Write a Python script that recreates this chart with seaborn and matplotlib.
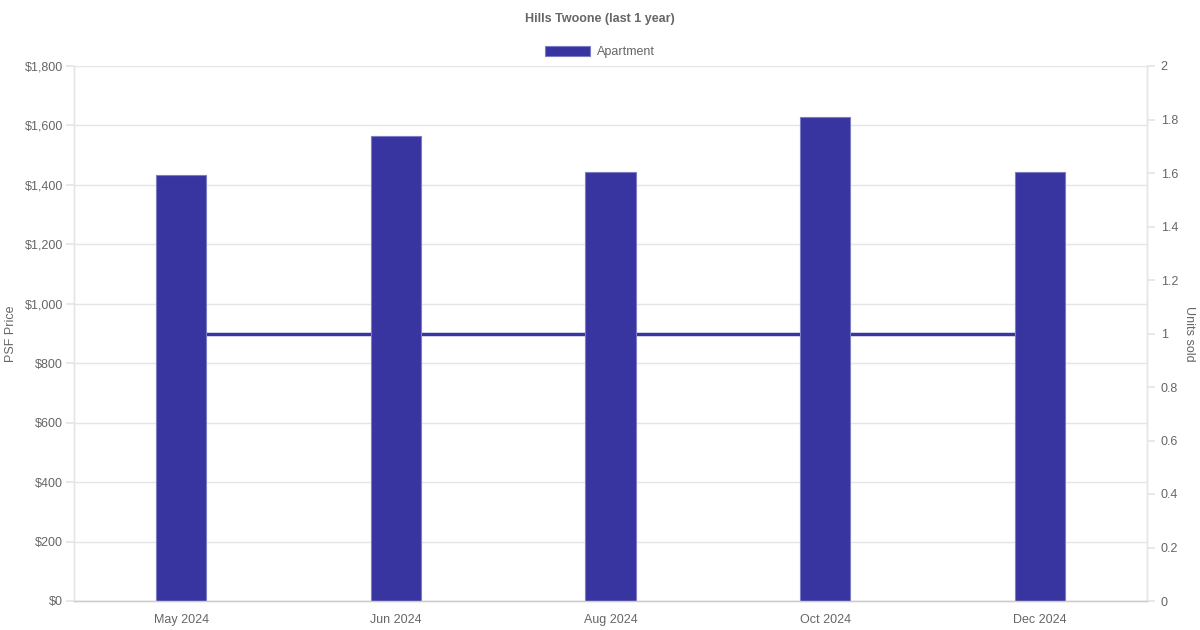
import matplotlib
matplotlib.use("Agg")
import matplotlib.pyplot as plt
import matplotlib.ticker as mticker
from matplotlib.patches import Patch
import seaborn as sns
import pandas as pd

months = ["May 2024", "Jun 2024", "Aug 2024", "Oct 2024", "Dec 2024"]
psf_price = [1433, 1565, 1443, 1628, 1443]
units_sold = [1, 1, 1, 1, 1]
series_name = "Apartment"
title = "Hills Twoone (last 1 year)"

BAR = "#3834a0"
EDGE = "#7f7cc6"
TXT = "#666666"
GRID = "#e5e5e5"

sns.set_theme(style="white")
plt.rcParams["font.family"] = ["Liberation Sans", "DejaVu Sans"]

df = pd.DataFrame({"month": months, "psf": psf_price, "units": units_sold})

fig = plt.figure(figsize=(12, 6.3), dpi=100)
ax = fig.add_axes([74 / 1200, 1 - 601 / 630, (1147 - 74) / 1200, (601 - 66) / 630])
ax2 = ax.twinx()

sns.barplot(data=df, x="month", y="psf", color=BAR, width=0.233, ax=ax,
            edgecolor=EDGE, linewidth=0.8, saturation=1)
sns.lineplot(data=df, x="month", y="units", color=BAR, linewidth=2.5, ax=ax2)

ax.set_zorder(ax2.get_zorder() + 1)
ax.patch.set_visible(False)

ax.set_ylim(0, 1800)
ax.set_yticks(range(0, 1801, 200))
ax.yaxis.set_major_formatter(mticker.FuncFormatter(lambda v, p: f"${v:,.0f}"))
ax2.set_ylim(0, 2)
ax2.set_yticks([i / 10 for i in range(0, 21, 2)])
ax2.yaxis.set_major_formatter(mticker.FuncFormatter(lambda v, p: f"{v:.1f}".rstrip("0").rstrip(".")))
ax.set_xlim(-0.5, len(months) - 0.5)

ax.grid(axis="y", color=GRID, linewidth=1)
ax.grid(axis="x", visible=False)
ax2.grid(False)

for a in (ax, ax2):
    for s in a.spines.values():
        s.set_color(GRID)
        s.set_linewidth(1)
    a.spines["top"].set_visible(False)
ax.spines["bottom"].set_color("#cccccc")

ax.tick_params(axis="y", which="both", length=5.8, color=GRID, labelcolor=TXT, labelsize=9, pad=2.2, left=True)
ax.tick_params(axis="x", length=0, labelcolor=TXT, labelsize=9, pad=16)
ax2.tick_params(axis="y", length=5.8, color=GRID, labelcolor=TXT, labelsize=9, pad=4, right=True)
for lab in ax.get_xticklabels():
    lab.set_verticalalignment("baseline")

ax.set_xlabel("")
ax.set_ylabel("PSF Price", color=TXT, fontsize=9, va="center")
ax.yaxis.set_label_coords((11 - 74) / 1073, 0.5)
ax2.set_ylabel("Units sold", color=TXT, fontsize=9, rotation=270, va="center")
ax2.yaxis.set_label_coords((1189 - 74) / 1073, 0.5)

fig.text(0.5, 1 - 19 / 630, title, ha="center", va="center", fontsize=9, fontweight="bold", color=TXT)
handles = [Patch(facecolor=BAR, edgecolor=EDGE, linewidth=0.8, label=series_name)]
fig.legend(handles=handles, loc="center", bbox_to_anchor=(0.5, 1 - 52 / 630), frameon=False,
           fontsize=9, labelcolor=TXT, handlelength=3.6, handleheight=0.9, handletextpad=0.6)

fig.savefig("out.png", dpi=100)
